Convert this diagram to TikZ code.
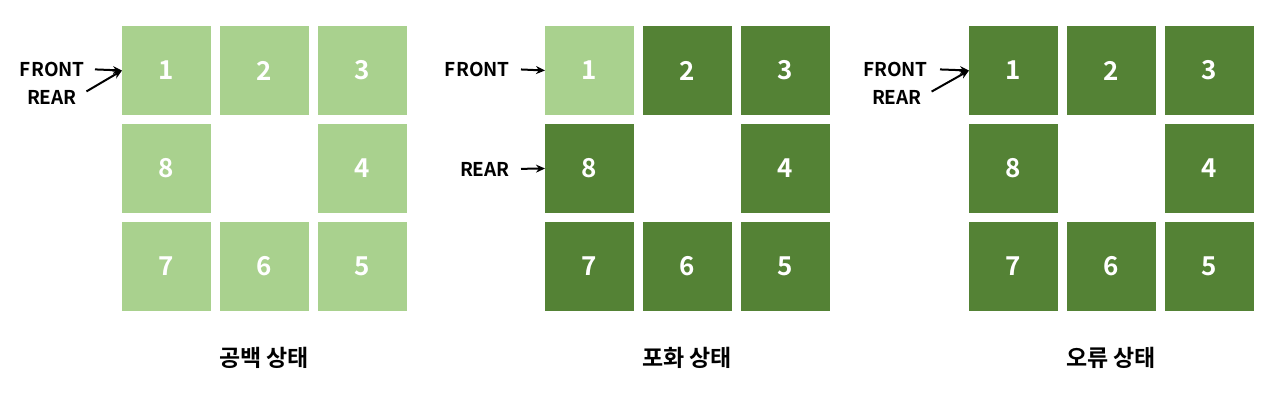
\documentclass[tikz,border=0pt]{standalone}
\usepackage{fontspec}
\setmainfont{Noto Sans CJK KR}[BoldFont={Noto Sans CJK KR Bold}]
\usepackage{xcolor}
\usetikzlibrary{arrows.meta, positioning}
\definecolor{lightgreen}{HTML}{A9D18E}
\definecolor{darkgreen}{HTML}{548235}

\begin{document}
\begin{tikzpicture}[
  x=1pt, y=1pt,
  node distance=9pt and 9pt,
  cell/.style={rectangle, fill=lightgreen, minimum size=89pt, inner sep=0pt, outer sep=0pt, text=white, font=\bfseries\fontsize{26}{26}\selectfont},
  full/.style={cell, fill=darkgreen},
  tag/.style={anchor=east, inner sep=0pt, font=\bfseries\fontsize{19}{19}\selectfont},
  caption/.style={inner sep=0pt, font=\bfseries\fontsize{23}{23}\selectfont},
  arrow/.style={-{Stealth[length=9pt, width=8pt]}, line width=2pt}
]
  \useasboundingbox (0,0) rectangle (1279,-403);

  % empty queue
  \node[cell] (a1) at (166.5,-70.5) {1};
  \node[cell, right=of a1] (a2) {2};
  \node[cell, right=of a2] (a3) {3};
  \node[cell, below=of a1] (a8) {8};
  \node[cell, below=of a3] (a4) {4};
  \node[cell, below=of a8] (a7) {7};
  \node[cell, right=of a7] (a6) {6};
  \node[cell, right=of a6] (a5) {5};
  \node[tag] (f1) at (85,-69) {FRONT};
  \node[tag] (r1) at (77,-97) {REAR};
  \draw[arrow, shorten <=10pt] (f1.east) -- (a1.west);
  \draw[arrow, shorten <=11pt] (r1.east) -- (a1.west);
  \node[caption] (t1) at (264,-358) {공백 상태};

  % full queue
  \node[cell] (b1) at (589.5,-70.5) {1};
  \node[full, right=of b1] (b2) {2};
  \node[full, right=of b2] (b3) {3};
  \node[full, below=of b1] (b8) {8};
  \node[full, below=of b3] (b4) {4};
  \node[full, below=of b8] (b7) {7};
  \node[full, right=of b7] (b6) {6};
  \node[full, right=of b6] (b5) {5};
  \node[tag] (f2) at (510,-69) {FRONT};
  \node[tag] (r2) at (510,-169) {REAR};
  \draw[arrow, shorten <=11pt] (f2.east) -- (b1.west);
  \draw[arrow, shorten <=11pt] (r2.east) -- (b8.west);
  \node[caption] (t2) at (687,-358) {포화 상태};

  % error state
  \node[full] (c1) at (1013.5,-70.5) {1};
  \node[full, right=of c1] (c2) {2};
  \node[full, right=of c2] (c3) {3};
  \node[full, below=of c1] (c8) {8};
  \node[full, below=of c3] (c4) {4};
  \node[full, below=of c8] (c7) {7};
  \node[full, right=of c7] (c6) {6};
  \node[full, right=of c6] (c5) {5};
  \node[tag] (f3) at (928,-69) {FRONT};
  \node[tag] (r3) at (922,-97) {REAR};
  \draw[arrow, shorten <=12pt] (f3.east) -- (c1.west);
  \draw[arrow, shorten <=11pt] (r3.east) -- (c1.west);
  \node[caption] (t3) at (1111,-358) {오류 상태};
\end{tikzpicture}
\end{document}
